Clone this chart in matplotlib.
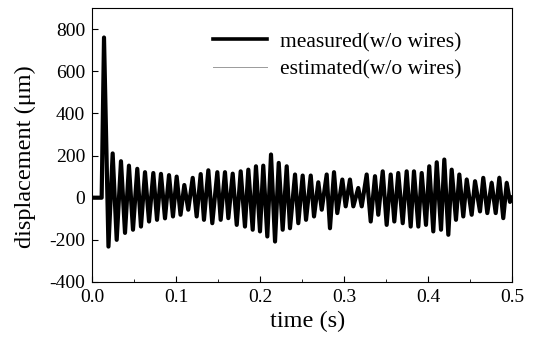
import matplotlib
matplotlib.use("Agg")
import matplotlib.pyplot as plt
from matplotlib.ticker import MultipleLocator, FormatStrFormatter

# ---- data ----
# quiet start and impact spike
start_t = [0.0, 0.0115, 0.0143]
start_v = [0.0, 0.0, 760.0]

# oscillation maxima (time s, displacement um)
peak_t = [0.0246, 0.0345, 0.0440, 0.0539, 0.0631, 0.0730, 0.0821, 0.0917, 0.1008, 0.1099,
          0.1199, 0.1294, 0.1385, 0.1492, 0.1583, 0.1675, 0.1770, 0.1861, 0.1952, 0.2039,
          0.2131, 0.2223, 0.2318, 0.2417, 0.2508, 0.2604, 0.2694, 0.2794, 0.2881, 0.2980,
          0.3071, 0.3170, 0.3270, 0.3369, 0.3461, 0.3556, 0.3646, 0.3746, 0.3833, 0.3925,
          0.4015, 0.4104, 0.4194, 0.4282, 0.4373, 0.4461, 0.4560, 0.4658, 0.4758, 0.4849,
          0.4937]
peak_v = [210, 173, 152, 137, 121, 117, 113, 107, 100, 60,
          94, 112, 130, 121, 121, 114, 125, 133, 149, 152,
          205, 165, 149, 110, 105, 105, 73, 110, 121, 86,
          86, 46, 110, 102, 125, 110, 117, 125, 125, 117,
          149, 168, 181, 133, 110, 86, 78, 94, 70, 94,
          70]

# oscillation minima
trough_t = [0.0196, 0.0294, 0.0393, 0.0488, 0.0583, 0.0679, 0.0774, 0.0869, 0.0964, 0.1054,
            0.1146, 0.1246, 0.1333, 0.1432, 0.1532, 0.1623, 0.1723, 0.1821, 0.1913, 0.2000,
            0.2087, 0.2179, 0.2270, 0.2357, 0.2456, 0.2548, 0.2643, 0.2735, 0.2833, 0.2920,
            0.3020, 0.3111, 0.3211, 0.3318, 0.3408, 0.3508, 0.3599, 0.3699, 0.3794, 0.3885,
            0.3976, 0.4063, 0.4155, 0.4242, 0.4333, 0.4420, 0.4520, 0.4619, 0.4706, 0.4806,
            0.4896, 0.4976]
trough_v = [-232, -200, -167, -152, -137, -113, -105, -98, -89, -81,
            -57, -89, -105, -121, -105, -97, -129, -137, -152, -160,
            -184, -208, -152, -145, -121, -105, -89, -57, -145, -73,
            -41, -41, -41, -113, -81, -129, -113, -121, -137, -137,
            -129, -160, -152, -176, -105, -89, -81, -65, -73, -73,
            -97, -20]

# estimated series: follows measured closely, small visible differences
est_peak_v = [200, 168, 150, 135, 124, 115, 110, 104, 98, 66,
              96, 110, 126, 119, 118, 116, 122, 130, 145, 150,
              190, 160, 145, 112, 103, 100, 78, 106, 117, 88,
              82, 52, 106, 100, 120, 108, 114, 122, 122, 114,
              145, 163, 176, 130, 112, 95, 85, 100, 82, 104,
              80]
est_trough_v = [-225, -195, -165, -150, -133, -112, -103, -96, -88, -78,
                -60, -86, -102, -117, -104, -96, -125, -133, -148, -156,
                -178, -200, -150, -142, -118, -103, -86, -60, -140, -72,
                -44, -44, -44, -110, -80, -125, -110, -118, -133, -133,
                -126, -156, -148, -170, -102, -88, -80, -66, -72, -74,
                -94, -15]


def merge(pt, pv, tt, tv):
    pts = sorted(list(zip(pt, pv)) + list(zip(tt, tv)))
    return [p[0] for p in pts], [p[1] for p in pts]


mt, mv = merge(peak_t, peak_v, trough_t, trough_v)
et, ev = merge(peak_t, est_peak_v, trough_t, est_trough_v)
meas_t = start_t + mt + [0.5]
meas_v = start_v + mv + [0.0]
est_t = start_t + et + [0.5]
est_v = start_v + ev + [5.0]

plt.rcParams['font.family'] = ['Liberation Serif', 'DejaVu Serif']
plt.rcParams['axes.unicode_minus'] = False

fig = plt.figure(figsize=(5.33, 3.51), dpi=100)
ax = fig.add_axes([0.1726, 0.1966, 0.788, 0.7806])

ax.plot(est_t, est_v, color='#9a9a9a', lw=0.7, label='estimated(w/o wires)', zorder=2)
ax.plot(meas_t, meas_v, color='black', lw=3.0, label='measured(w/o wires)', zorder=3,
        solid_joinstyle='round')

ax.set_xlim(0, 0.5)
ax.set_ylim(-400, 900)
ax.xaxis.set_major_locator(MultipleLocator(0.1))
ax.xaxis.set_minor_locator(MultipleLocator(0.05))
ax.set_yticks([-400, -200, 0, 200, 400, 600, 800])
ax.xaxis.set_major_formatter(FormatStrFormatter('%.1f'))
ax.tick_params(direction='in', which='both', top=False, right=False, labelsize=14)
ax.tick_params(which='major', length=4, pad=5)
ax.tick_params(which='minor', length=2)

ax.set_xlabel('time (s)', fontsize=17.5, labelpad=4)
ax.xaxis.set_label_coords(0.513, -0.104)
ax.xaxis.label.set_va('top')
ax.set_ylabel('displacement (\u03bcm)', fontsize=17.5)
ax.yaxis.set_label_coords(-0.133, 0.456)

h, l = ax.get_legend_handles_labels()
leg = ax.legend(h[::-1], l[::-1], loc='upper right', frameon=False, fontsize=15.5,
                handlelength=2.5, handletextpad=0.6, borderaxespad=0.0, labelspacing=0.35,
                bbox_to_anchor=(0.900, 0.944))
leg.get_lines()[0].set_linewidth(2.6)

fig.savefig('out.png', dpi=100)
